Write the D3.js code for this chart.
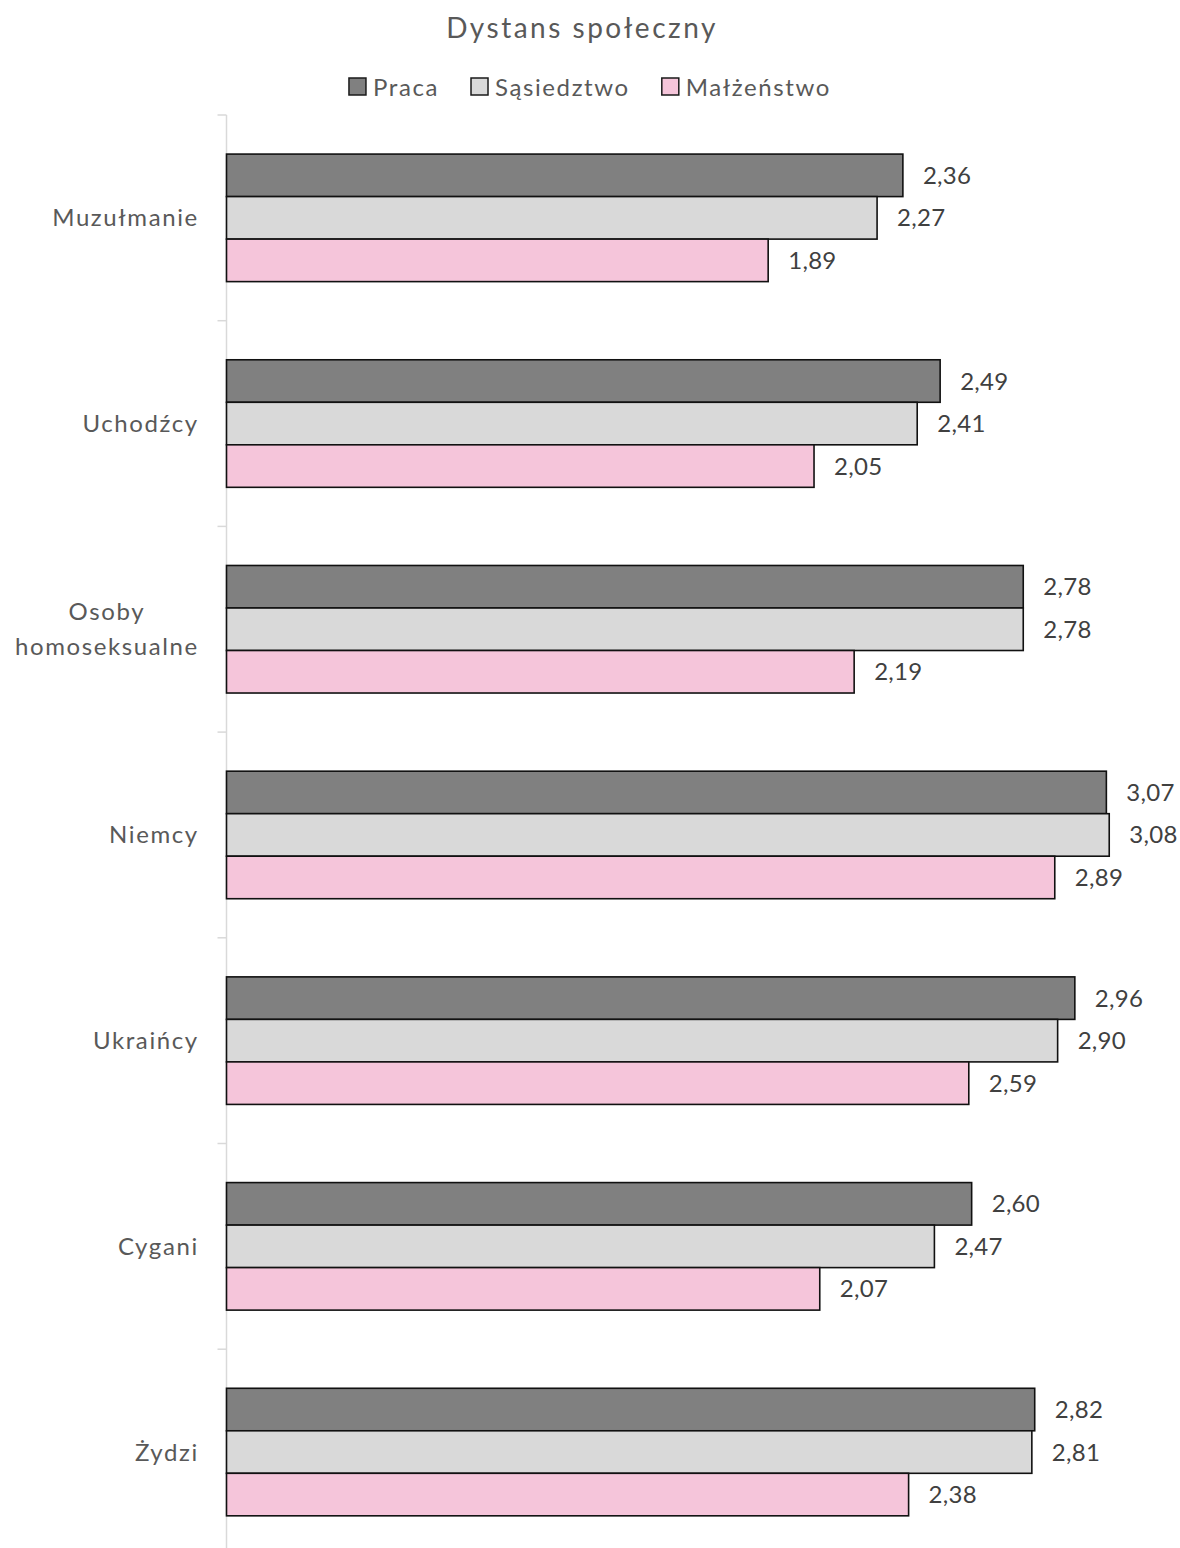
<!DOCTYPE html>
<html>
<head>
<meta charset="utf-8">
<script src="https://cdn.jsdelivr.net/npm/d3@7"></script>
<style>
  html, body { margin: 0; padding: 0; background: #fff; }
  svg { display: block; font-family: Lato, "Open Sans", sans-serif; }
</style>
</head>
<body>
<div id="chart"></div>
<script>
// data
const categories = ["Muzułmanie", "Uchodźcy", "Osoby homoseksualne", "Niemcy", "Ukraińcy", "Cygani", "Żydzi"];
const series = ["Praca", "Sąsiedztwo", "Małżeństwo"];
const praca      = [2.36, 2.49, 2.78, 3.07, 2.96, 2.60, 2.82];
const sasiedztwo = [2.27, 2.41, 2.78, 3.08, 2.90, 2.47, 2.81];
const malzenstwo = [1.89, 2.05, 2.19, 2.89, 2.59, 2.07, 2.38];
const seriesColors = ["#808080", "#d9d9d9", "#f5c5da"];

const values = [praca, sasiedztwo, malzenstwo];
const rows = categories.map((c, i) => ({
  category: c,
  vals: series.map((s, j) => ({ key: s, value: values[j][i], idx: j }))
}));

const width = 1180, height = 1548;
const x0 = 226.5;

const svg = d3.select("#chart").append("svg")
  .attr("width", width)
  .attr("height", height);

const x = d3.scaleLinear()
  .domain([0, 3.5])
  .range([x0, x0 + 3.5 * 286.6]);

const y = d3.scaleBand()
  .domain(categories)
  .range([115, 115 + 205.7 * categories.length])
  .paddingInner(0.38)
  .paddingOuter(0.19);

const ySub = d3.scaleBand()
  .domain(series)
  .range([0, y.bandwidth()]);

const color = d3.scaleOrdinal().domain(series).range(seriesColors);

// title
svg.append("text")
  .attr("x", 582)
  .attr("y", 38)
  .attr("text-anchor", "middle")
  .attr("fill", "#595959")
  .attr("font-size", 28)
  .attr("letter-spacing", 2.5)
  .text("Dystans społeczny");

// legend
const legend = svg.append("g");
let lx = 0;
series.forEach(s => {
  const item = legend.append("g").attr("transform", `translate(${lx},0)`);
  item.append("rect")
    .attr("x", 0).attr("y", 0)
    .attr("width", 17).attr("height", 17)
    .attr("fill", color(s))
    .attr("stroke", "#1a1a1a")
    .attr("stroke-width", 1.5);
  const t = item.append("text")
    .attr("x", 24)
    .attr("y", 17.5)
    .attr("fill", "#595959")
    .attr("font-size", 24)
    .attr("letter-spacing", 1.6)
    .text(s);
  lx += 24 + t.node().getComputedTextLength() + 32;
});
const legendW = lx - 32;
legend.attr("transform", `translate(${590 - legendW / 2},78)`);

// axis (category axis with tick marks between groups)
const axis = svg.append("g");
const yTop = y.range()[0], yBot = y.range()[1];
axis.append("line")
  .attr("x1", x0).attr("x2", x0)
  .attr("y1", yTop).attr("y2", yBot)
  .attr("stroke", "#d9d9d9")
  .attr("stroke-width", 1.5);
d3.range(categories.length + 1).forEach(i => {
  const ty = yTop + y.step() * i;
  axis.append("line")
    .attr("x1", x0 - 9).attr("x2", x0)
    .attr("y1", ty).attr("y2", ty)
    .attr("stroke", "#d9d9d9")
    .attr("stroke-width", 1.5);
});

// category labels
const labelLines = {
  "Osoby homoseksualne": ["Osoby", "homoseksualne"]
};
categories.forEach(c => {
  const cy = y(c) + y.bandwidth() / 2;
  const lines = labelLines[c] || [c];
  const t = svg.append("text")
    .attr("text-anchor", "middle")
    .attr("fill", "#595959")
    .attr("font-size", 24)
    .attr("letter-spacing", 1.6);
  const spans = lines.map((ln, k) =>
    t.append("tspan")
      .attr("x", 0)
      .attr("y", cy + 8.5 + (k - (lines.length - 1) / 2) * 35)
      .text(ln));
  // right align block: centre each line on the widest line
  const w = d3.max(spans, sp => sp.node().getComputedTextLength()) - 1.6;
  spans.forEach(sp => sp.attr("x", 198 - w / 2));
});

// bars
const groups = svg.selectAll("g.group")
  .data(rows)
  .enter()
  .append("g")
  .attr("class", "group")
  .attr("transform", d => `translate(0,${y(d.category)})`);

groups.selectAll("rect")
  .data(d => d.vals)
  .enter()
  .append("rect")
  .attr("x", x(0))
  .attr("y", d => ySub(d.key))
  .attr("width", d => x(d.value) - x(0))
  .attr("height", ySub.bandwidth())
  .attr("fill", d => color(d.key))
  .attr("stroke", "#111")
  .attr("stroke-width", 1.6);

groups.selectAll("text.val")
  .data(d => d.vals)
  .enter()
  .append("text")
  .attr("class", "val")
  .attr("x", d => x(d.value) + 20)
  .attr("y", d => ySub(d.key) + ySub.bandwidth() / 2 + 8.5)
  .attr("fill", "#404040")
  .attr("font-size", 24)
  .attr("letter-spacing", 0.3)
  .text(d => d.value.toFixed(2).replace(".", ","));
</script>
</body>
</html>
